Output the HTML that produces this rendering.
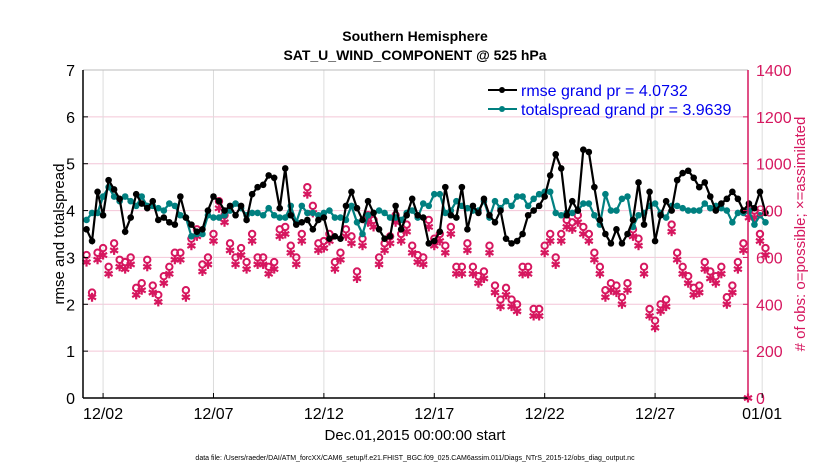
<!DOCTYPE html>
<html><head><meta charset="utf-8"><style>
body{margin:0;background:#fff;}
svg{display:block;font-family:"Liberation Sans",Arial,sans-serif;}
</style></head><body>
<svg id="chart" width="830" height="470" viewBox="0 0 830 470" xmlns="http://www.w3.org/2000/svg">
<g id="grid"></g>
<g id="obs"></g>
<g id="lines"></g>
<g id="axes"></g>
<text x="415" y="41" text-anchor="middle" font-size="14" font-weight="bold">Southern Hemisphere</text>
<text x="415" y="60" text-anchor="middle" font-size="14" font-weight="bold">SAT_U_WIND_COMPONENT @ 525 hPa</text>
<text x="415" y="440" text-anchor="middle" font-size="15">Dec.01,2015 00:00:00 start</text>
<text x="415" y="460" text-anchor="middle" font-size="7">data file: /Users/raeder/DAI/ATM_forcXX/CAM6_setup/f.e21.FHIST_BGC.f09_025.CAM6assim.011/Diags_NTrS_2015-12/obs_diag_output.nc</text>
<text transform="translate(64,234) rotate(-90)" text-anchor="middle" font-size="15">rmse and totalspread</text>
<text transform="translate(805,234) rotate(-90)" text-anchor="middle" font-size="15" fill="#d6175f"># of obs: o=possible; ×=assimilated</text>
<g>
<line x1="488" y1="90" x2="517" y2="90" stroke="#000" stroke-width="2"/><circle cx="502" cy="90" r="3" fill="#000"/>
<text x="521" y="96" font-size="16" fill="#0000ee">rmse grand pr = 4.0732</text>
<line x1="488" y1="109" x2="517" y2="109" stroke="#008080" stroke-width="2"/><circle cx="502" cy="109" r="3" fill="#008080"/>
<text x="521" y="115" font-size="16" fill="#0000ee">totalspread grand pr = 3.9639</text>
</g>
</svg>
<script>
const rmse=[3.6,3.35,4.4,3.9, 4.65,4.45,4.25,3.55, 3.85,4.35,4.15,4.05, 4.2,3.8,3.85,3.75, 3.7,4.3,3.85,3.7, 3.55,3.6,4.0,4.3, 4.2,4.0,4.1,3.9, 4.1,3.8,4.35,4.5, 4.55,4.75,4.7,4.05, 4.9,3.9,3.7,3.75, 3.8,3.6,3.8,3.85, 3.4,3.45,3.4,4.1, 4.4,4.05,3.8,4.2, 3.95,3.6,3.4,3.45, 4.1,3.6,3.9,4.25, 3.9,3.85,3.3,3.35, 3.55,4.5,3.9,3.85, 4.5,3.6,4.1,3.95, 4.25,3.9,3.75,4.0, 3.4,3.3,3.35,3.5, 3.9,4.0,4.1,4.3, 4.75,5.2,4.9,3.9, 4.2,4.0,5.3,5.25, 4.5,3.8,3.5,3.3, 3.6,3.3,3.5,3.8, 4.6,3.7,4.4,3.35, 3.9,4.2,4.0,4.65, 4.8,4.85,4.7,4.5, 4.6,4.3,4.0,4.15, 4.25,4.4,4.25,4.0, 4.15,4.05,4.4,3.95];
const spread=[3.8,3.95,3.95,4.3, 4.5,4.3,4.2,4.3, 4.2,4.1,4.3,4.1, 4.1,4.05,4.0,4.15, 4.1,3.9,3.85,3.45, 3.5,3.5,3.9,3.85, 3.85,3.9,4.0,4.15, 4.05,3.9,3.95,3.95, 3.9,4.05,3.9,3.85, 3.85,4.1,3.75,4.1, 3.95,3.95,3.9,3.95, 4.0,3.85,3.85,3.8, 4.1,3.75,3.5,3.9, 3.95,4.0,3.95,3.85, 3.85,3.8,3.95,4.0, 3.85,4.15,4.1,4.35, 4.35,3.95,4.0,4.2, 4.1,4.05,4.0,4.0, 4.2,3.85,4.2,4.05, 4.2,4.1,4.3,4.3, 4.1,4.25,4.35,4.4, 4.4,3.95,3.9,3.95, 3.95,4.0,4.15,4.15, 3.9,3.7,4.35,4.0, 4.0,4.25,4.3,3.65, 3.9,3.95,4.1,4.15, 3.95,3.85,4.1,4.1, 4.05,4.0,4.0,4.0, 4.15,4.05,4.1,4.05, 4.0,3.75,3.95,3.95, 4.0,3.7,3.9,3.75];
const possible=[610,450,620,640, 560,660,590,580, 600,470,490,590, 480,440,520,560, 620,620,460,680, 720,570,600,700, 840,780,660,600, 640,580,700,600, 600,560,580,720, 730,650,600,700, 900,820,660,670, 700,580,620,720, 690,540,680,780, 760,600,660,690, 780,700,740,650, 610,600,760,680, 700,650,730,560, 560,660,560,520, 540,650,480,420, 470,420,400,560, 560,380,380,650, 700,600,700,760, 750,780,730,700, 620,560,460,490, 480,430,490,720, 680,560,380,330, 400,420,740,620, 560,520,470,480, 580,540,520,560, 430,480,580,660, 800,800,700,640];
const assimilated=[580,430,590,610, 530,630,560,550, 570,440,460,560, 450,410,490,530, 590,590,430,650, 690,540,570,670, 810,750,630,570, 610,550,670,570, 570,530,550,690, 700,620,570,670, 870,790,630,640, 670,550,590,690, 660,510,650,750, 730,570,630,660, 750,670,710,620, 580,570,730,650, 670,620,700,530, 530,630,530,490, 510,620,450,390, 440,390,370,530, 530,350,350,620, 670,570,670,730, 720,750,700,670, 590,530,430,460, 450,400,460,690, 650,530,350,300, 370,390,710,590, 530,490,440,450, 550,510,490,530, 400,450,550,630, 770,770,670,610];
const tickLabels=["12/02","12/07","12/12","12/17","12/22","12/27","01/01"];
const tickDays=[1,6,11,16,21,26,30.85];
const leftTicks=[0,1,2,3,4,5,6,7];
const rightTicks=[0,200,400,600,800,1000,1200,1400];

const NS="http://www.w3.org/2000/svg";
const PL=83,PR=748,PT=70,PB=398;
const RED="#d6175f";
function xDay(d){return 81+d*22.08;}
function xIdx(i){return xDay(i*0.25+0.25);}
function yL(v){return PB-(PB-PT)*v/7;}
function yR(v){return PB-(PB-PT)*v/1400;}
function mk(tag,attrs,parent){const e=document.createElementNS(NS,tag);for(const k in attrs)e.setAttribute(k,attrs[k]);parent.appendChild(e);return e;}
const grid=document.getElementById('grid'),axes=document.getElementById('axes'),obs=document.getElementById('obs'),lines=document.getElementById('lines');

leftTicks.forEach(v=>{
  if(v>0&&v<7){const g=mk('line',{x1:PL,x2:PR,y1:yL(v),y2:yL(v),stroke:'#f4c6d8','stroke-width':1},grid);
  
  }
  const t=mk('text',{x:PL-8,y:yL(v)+6,'text-anchor':'end','font-size':16},axes);t.textContent=v;
  
  
  mk('line',{x1:PL,x2:PL+5,y1:yL(v),y2:yL(v),stroke:'#000'},axes);
});
rightTicks.forEach(v=>{
  const t=mk('text',{x:PR+8,y:yR(v)+6,'font-size':16,fill:RED},axes);t.textContent=v;
  
  
  mk('line',{x1:PR-5,x2:PR,y1:yR(v),y2:yR(v),stroke:RED},axes);
});
tickDays.forEach((d,i)=>{
  const x=xDay(d);
  const g=mk('line',{x1:x,x2:x,y1:PT,y2:PB,stroke:'#dcdcdc','stroke-width':1},grid);
  
  
  mk('line',{x1:x,x2:x,y1:PB,y2:PB-5,stroke:'#000'},axes);
  const t=mk('text',{x:x,y:PB+21,'text-anchor':'middle','font-size':16},axes);t.textContent=tickLabels[i];
  
  
});
mk('line',{x1:PL,x2:PR,y1:PT,y2:PT,stroke:'#bbbbbb','stroke-width':1},axes);
mk('line',{x1:PL,x2:PL,y1:PT,y2:PB,stroke:'#000','stroke-width':1.5},axes);
mk('line',{x1:PL,x2:PR,y1:PB,y2:PB,stroke:'#000','stroke-width':1.5},axes);
mk('line',{x1:PR,x2:PR,y1:PT,y2:PB,stroke:RED,'stroke-width':1.5},axes);

function star(x,y,parent){
  const g=mk('g',{stroke:RED,'stroke-width':2.2},parent);
  
  
  [[0,4.5],[4,2.2],[4,-2.2]].forEach(([dx,dy])=>mk('line',{x1:x-dx,y1:y-dy,x2:x+dx,y2:y+dy},g));
}
possible.forEach((v,i)=>{
  const c=mk('circle',{cx:xIdx(i),cy:yR(v),r:3.2,fill:'none',stroke:RED,'stroke-width':2},obs);
  
  
});
assimilated.forEach((v,i)=>star(xIdx(i),yR(v),obs));
star(PR,PB,obs);

function series(arr,color,name){
  const p=mk('polyline',{points:arr.map((v,i)=>xIdx(i)+','+yL(v)).join(' '),fill:'none',stroke:color,'stroke-width':2.2},lines);
  
  
  arr.forEach((v,i)=>{
    const c=mk('circle',{cx:xIdx(i),cy:yL(v),r:3.3,fill:color},lines);
    
    
  });
}
series(spread,'#008080','spread');
series(rmse,'#000000','rmse');
</script>
</body></html>
